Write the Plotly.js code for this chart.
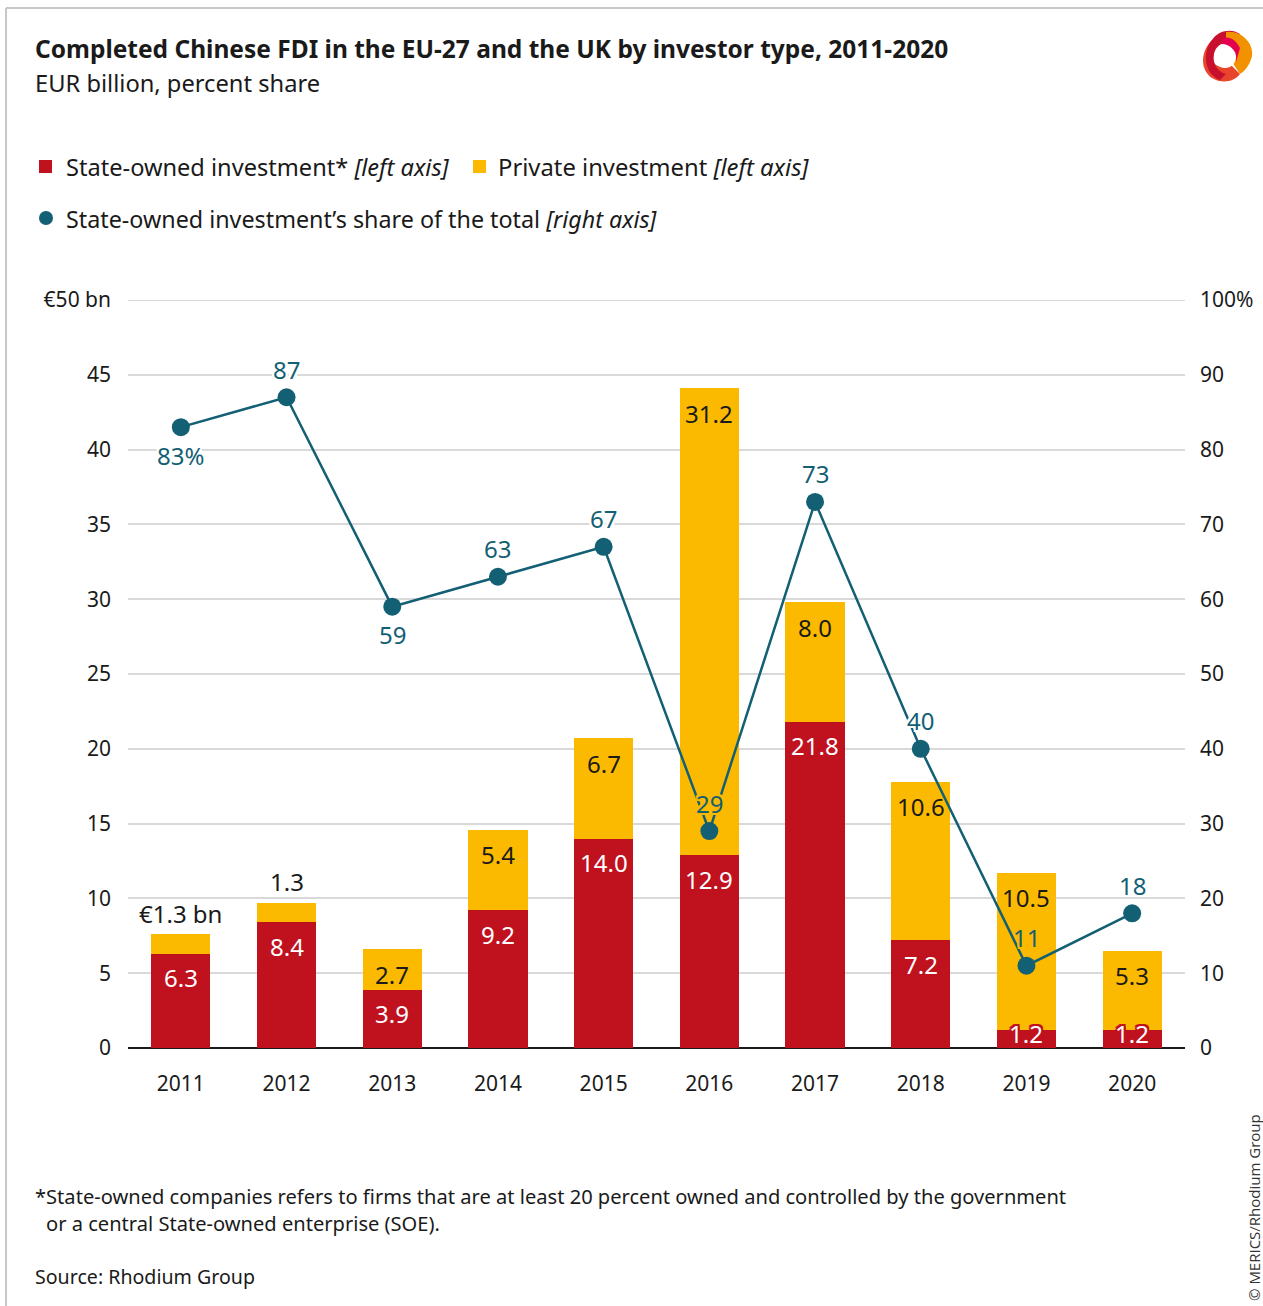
<!DOCTYPE html>
<html><head><meta charset="utf-8">
<script src="https://cdn.plot.ly/plotly-3.0.1.min.js"></script>
<style>html,body{margin:0;padding:0;background:#fff}</style>
</head><body><div id="chart" style="width:1263px;height:1306px"></div>
<script>
const years = ['2011','2012','2013','2014','2015','2016','2017','2018','2019','2020'];
const stateOwned = [6.3, 8.4, 3.9, 9.2, 14.0, 12.9, 21.8, 7.2, 1.2, 1.2];
const privateInv = [1.3, 1.3, 2.7, 5.4, 6.7, 31.2, 8.0, 10.6, 10.5, 5.3];
const stateShare = [83, 87, 59, 63, 67, 29, 73, 40, 11, 18];
const privateLabels = ['€1.3 bn','1.3','2.7','5.4','6.7','31.2','8.0','10.6','10.5','5.3'];
const shareLabels = ['83%','87','59','63','67','29','73','40','11','18'];
const shareLabelBelow = [true,false,true,false,false,false,false,false,false,false];
const leftTickVals = [0,5,10,15,20,25,30,35,40,45,50];
const leftTickText = ['0','5','10','15','20','25','30','35','40','45','€50 bn'];
const rightTickVals = [0,10,20,30,40,50,60,70,80,90,100];
const rightTickText = ['0','10','20','30','40','50','60','70','80','90','100%'];

const RED = '#C0111F', YEL = '#FBBA00', TEAL = '#135F74', INK = '#1a1a1a';
const FONT = '"Noto Sans", "Open Sans", sans-serif';
const W = 1263, H = 1306, L = 128, R = 78, T = 300, B = 258;
const PW = W - L - R, PH = H - T - B;
const px = v => (v - L) / PW;
const py = v => (H - B - v) / PH;
const halo = (c, d) => {
  const o = [];
  for (const [a, b] of [[-d,0],[d,0],[0,-d],[0,d],[-d,-d],[d,d],[-d,d],[d,-d]]) o.push(`${a}px ${b}px 0 ${c}`);
  return o.join(', ');
};

const traces = [
  {type:'bar', x: years, y: stateOwned, name:'State-owned', marker:{color:RED}, hoverinfo:'skip'},
  {type:'bar', x: years, y: privateInv, name:'Private', marker:{color:YEL}, hoverinfo:'skip'},
  {type:'scatter', mode:'lines+markers', x: years, y: stateShare, yaxis:'y2', name:'Share',
   line:{color:TEAL, width:2.5}, marker:{color:TEAL, size:18}, hoverinfo:'skip'}
];

const ann = [];
// bar and line labels (x given as category index)
years.forEach((yr, i) => {
  const small = stateOwned[i] < 3;
  const a1 = {x: i, y: stateOwned[i], xref:'x', yref:'y', text: stateOwned[i].toFixed(1),
    showarrow:false, yanchor:'middle', yshift: small ? -3 : -24,
    font:{family:FONT, size:24, color:'#fff'}};
  if (small) a1.font.shadow = halo(RED, 2);
  ann.push(a1);
  const tot = stateOwned[i] + privateInv[i];
  const above = privateInv[i] < 2;
  ann.push({x: i, y: tot, xref:'x', yref:'y', text: privateLabels[i],
    showarrow:false, yanchor:'middle', yshift: above ? 21 : -25,
    font:{family:FONT, size:24, color:INK}});
  const inBar = stateShare[i] / 2 < tot && stateShare[i] / 2 > stateOwned[i];
  ann.push({x: i, y: stateShare[i], xref:'x', yref:'y2', text: shareLabels[i],
    showarrow:false, yanchor:'middle', yshift: shareLabelBelow[i] ? -28 : 28,
    font:{family:FONT, size:24, color:TEAL, shadow: halo(inBar ? YEL : '#fff', 2)}});
});

// titles and notes
const txt = (t, x, y, size, opts={}) => Object.assign({text:t, x:px(x - 2), y:py(y), xref:'paper', yref:'paper',
  xanchor:'left', yanchor:'middle', showarrow:false, font:{family:FONT, size:size, color:INK}}, opts);
ann.push(txt('<b>Completed Chinese FDI in the EU-27 and the UK by investor type, 2011-2020</b>', 35, 48, 24.5));
ann.push(txt('EUR billion, percent share', 35, 83, 23.7));
ann.push(txt('State-owned investment* <i>[left axis]</i>', 66, 167, 23.6));
ann.push(txt('Private investment <i>[left axis]</i>', 498, 167, 23.8));
ann.push(txt('State-owned investment’s share of the total <i>[right axis]</i>', 66, 219, 23.3));
ann.push(txt('*State-owned companies refers to firms that are at least 20 percent owned and controlled by the government', 35, 1196, 20.1));
ann.push(txt('or a central State-owned enterprise (SOE).', 46, 1223, 20.1));
ann.push(txt('Source: Rhodium Group', 35, 1276, 19.6));
ann.push({text:'© MERICS/Rhodium Group', x:px(1254), y:py(1208), xref:'paper', yref:'paper', textangle:-90,
  xanchor:'center', yanchor:'middle', showarrow:false, font:{family:'"Open Sans", sans-serif', size:15, color:'#333'}});

const shapes = [
  {type:'line', xref:'paper', yref:'y', x0:0, x1:1, y0:50, y1:50, layer:'below', line:{color:'#d9d9d9', width:2}},
  {type:'line', xref:'paper', yref:'paper', x0:px(6), x1:px(6), y0:py(8), y1:py(1306), line:{color:'#c8c8c8', width:2}},
  {type:'line', xref:'paper', yref:'paper', x0:px(6), x1:px(1263), y0:py(8), y1:py(8), line:{color:'#c8c8c8', width:2}},
  {type:'rect', xref:'paper', yref:'paper', x0:px(39), x1:px(52), y0:py(160), y1:py(173), fillcolor:RED, line:{width:0}},
  {type:'rect', xref:'paper', yref:'paper', x0:px(473), x1:px(486), y0:py(160), y1:py(173), fillcolor:YEL, line:{width:0}},
  {type:'circle', xref:'paper', yref:'paper', x0:px(39), x1:px(53), y0:py(211), y1:py(225), fillcolor:TEAL, line:{width:0}},
];
// logo (pixel coordinates converted to paper)
const pth = pts => {
  let s = '';
  pts.forEach(seg => { s += seg[0] + ' ' + seg.slice(1).map((v,k)=> k%2===0 ? px(v) : py(v)).join(',') + ' '; });
  return s + 'Z';
};
shapes.push({type:'path', xref:'paper', yref:'paper', fillcolor:'#E8452C', line:{width:0},
  path: pth([['M',1212,40],['C',1200,52,1200,70,1212,78],['C',1222,84,1234,82,1240,74],['L',1230,64],['C',1222,70,1212,66,1212,56],['L',1212,40]])});
shapes.push({type:'path', xref:'paper', yref:'paper', fillcolor:'#C8102E', line:{width:0},
  path: pth([['M',1212,40],['C',1218,30,1232,28,1240,34],['L',1234,44],['C',1226,40,1216,44,1214,54],['C',1212,64,1218,72,1226,74],['L',1220,80],['C',1204,74,1202,52,1212,40]])});
shapes.push({type:'path', xref:'paper', yref:'paper', fillcolor:'#F39200', line:{width:0},
  path: pth([['M',1226,32],['C',1242,30,1254,44,1252,56],['C',1250,64,1246,70,1240,74],['L',1232,62],['C',1238,54,1236,44,1226,40],['L',1226,32]])});
shapes.push({type:'path', xref:'paper', yref:'paper', fillcolor:'#E5004F', line:{width:0},
  path: pth([['M',1222,38],['C',1230,36,1236,40,1240,48],['L',1236,62],['C',1236,50,1230,44,1222,44],['L',1222,38]])});
shapes.push({type:'circle', xref:'paper', yref:'paper', x0:px(1214), x1:px(1236), y0:py(46), y1:py(68), fillcolor:'#fff', line:{width:0}});

const layout = {
  width:W, height:H, autosize:false, margin:{l:L, r:R, t:T, b:B},
  paper_bgcolor:'#fff', plot_bgcolor:'#fff', barmode:'stack', bargap:0.44, showlegend:false,
  font:{family:FONT, color:INK},
  xaxis:{type:'category', range:[-0.5, 9.5], showgrid:false, showline:false, ticks:'', ticklabelstandoff:21,
    tickfont:{family:FONT, size:21, color:INK}, fixedrange:true},
  yaxis:{range:[0,50], tickvals:leftTickVals, ticktext:leftTickText, gridcolor:'#d9d9d9', gridwidth:2,
    zeroline:true, zerolinecolor:INK, zerolinewidth:2.5, showline:false, ticks:'', ticklabelstandoff:16,
    tickfont:{family:FONT, size:21, color:INK}, fixedrange:true},
  yaxis2:{range:[0,100], overlaying:'y', side:'right', tickvals:rightTickVals, ticktext:rightTickText,
    showgrid:false, zeroline:false, showline:false, ticks:'', ticklabelstandoff:14,
    tickfont:{family:FONT, size:21, color:INK}, fixedrange:true},
  annotations: ann, shapes: shapes
};
Plotly.newPlot('chart', traces, layout, {displayModeBar:false, staticPlot:true});
</script></body></html>
